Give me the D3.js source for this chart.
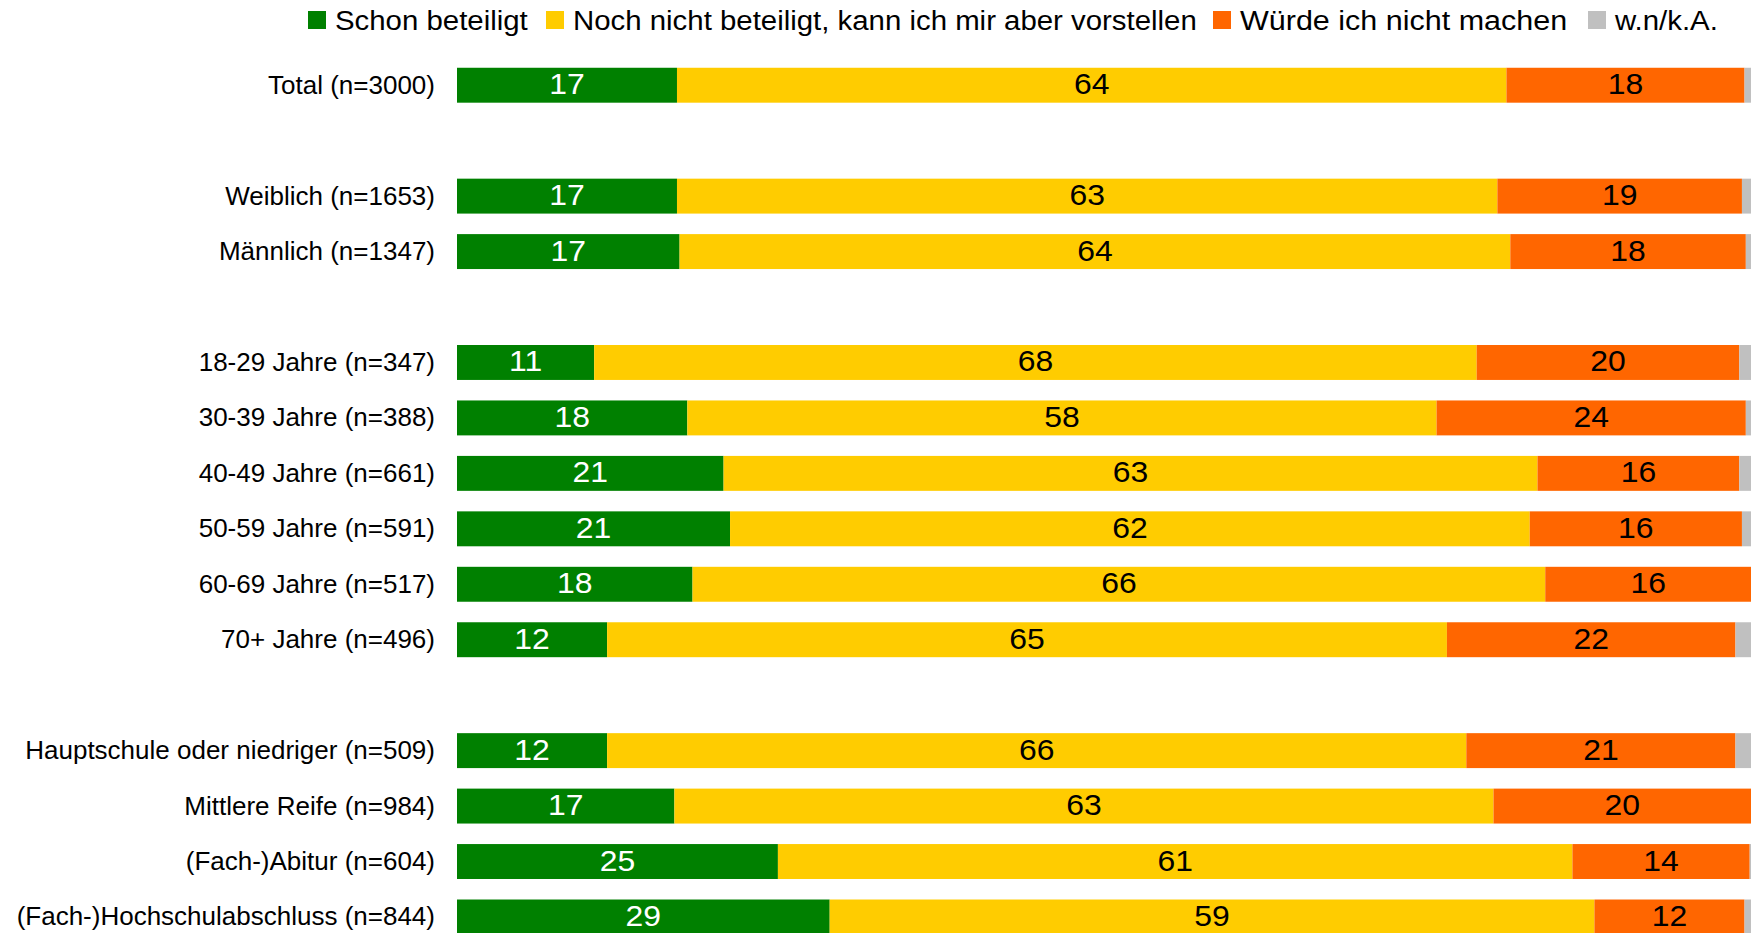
<!DOCTYPE html>
<html>
<head>
<meta charset="utf-8">
<script src="https://cdn.jsdelivr.net/npm/d3@7"></script>
<style>
  body { margin: 0; background: #fff; }
  text { font-family: "Liberation Sans", Arial, sans-serif; }
</style>
</head>
<body>
<div id="chart"></div>
<script>
// rows ("" = empty spacer row)
const groups = [
  "Total (n=3000)", "",
  "Weiblich (n=1653)", "Männlich (n=1347)", "",
  "18-29 Jahre (n=347)", "30-39 Jahre (n=388)", "40-49 Jahre (n=661)",
  "50-59 Jahre (n=591)", "60-69 Jahre (n=517)", "70+ Jahre (n=496)", "",
  "Hauptschule oder niedriger (n=509)", "Mittlere Reife (n=984)",
  "(Fach-)Abitur (n=604)", "(Fach-)Hochschulabschluss (n=844)"
];
const series = ["Schon beteiligt", "Noch nicht beteiligt, kann ich mir aber vorstellen",
                "Würde ich nicht machen", "w.n/k.A."];
const colors = ["#008000", "#FFCC00", "#FF6600", "#C0C0C0"];
const textColors = ["#fff", "#000", "#000", "#000"];

// values per row, same order as groups (null for spacer)
const schon    = [17.0, null, 17.0, 17.2, null, 10.6, 17.8, 20.6, 21.1, 18.2, 11.6, null, 11.6, 16.8, 24.8, 28.8];
const vorstell = [64.1, null, 63.4, 64.2, null, 68.2, 57.9, 62.9, 61.8, 65.9, 64.9, null, 66.4, 63.3, 61.4, 59.1];
const nicht    = [18.4, null, 18.9, 18.2, null, 20.3, 23.9, 15.6, 16.4, 15.9, 22.3, null, 20.8, 19.9, 13.7, 11.6];
const wnka     = [0.5,  null, 0.7,  0.4,  null, 0.9,  0.4,  0.9,  0.7,  0.0,  1.2,  null, 1.2,  0.1,  0.1,  0.5];

const width = 1751, height = 933;
const svg = d3.select("#chart").append("svg")
  .attr("width", width).attr("height", height);

const keys = groups.map((g, i) => g || "gap" + i);
const rows = keys.map((k, i) => ({
  key: k, label: groups[i],
  vals: [schon[i], vorstell[i], nicht[i], wnka[i]]
})).filter(r => r.label);

const x = d3.scaleLinear().domain([0, 100]).range([457, 1751]);
const y = d3.scaleBand().domain(keys)
  .range([57.5, 57.5 + 16 * 55.45])
  .paddingInner(0.37).paddingOuter(0.185);

// stack
const segs = [];
rows.forEach(r => {
  let acc = 0;
  r.vals.forEach((v, j) => {
    segs.push({row: r.key, j: j, v: v, x0: acc, x1: acc + v});
    acc += v;
  });
});

svg.append("g").selectAll("rect")
  .data(segs)
  .enter().append("rect")
  .attr("x", d => x(d.x0))
  .attr("y", d => y(d.row))
  .attr("width", d => x(d.x1) - x(d.x0))
  .attr("height", y.bandwidth())
  .attr("fill", d => colors[d.j]);

// value labels
svg.append("g").selectAll("text")
  .data(segs.filter(d => d.j < 3))
  .enter().append("text")
  .attr("transform", d => `translate(${(x(d.x0) + x(d.x1)) / 2},${y(d.row) + y.bandwidth() / 2 + 9}) scale(1.1,1)`)
  .attr("text-anchor", "middle")
  .attr("font-size", 29)
  .attr("fill", d => textColors[d.j])
  .text(d => Math.round(d.v));

// row labels
svg.append("g").selectAll("text")
  .data(rows)
  .enter().append("text")
  .attr("x", 435)
  .attr("y", d => y(d.key) + y.bandwidth() / 2 + 8.5)
  .attr("text-anchor", "end")
  .attr("font-size", 26)
  .attr("fill", "#000")
  .text(d => d.label);

// legend
const legX = [308, 546, 1213, 1588];
const leg = svg.append("g").selectAll("g")
  .data(series)
  .enter().append("g")
  .attr("transform", (d, i) => `translate(${legX[i]},11)`);
leg.append("rect")
  .attr("width", 18).attr("height", 18)
  .attr("fill", (d, i) => colors[i]);
leg.append("text")
  .attr("transform", (d, i) => `translate(27,19) scale(${i === 2 ? 1.09 : 1.05},1)`)
  .attr("font-size", 28)
  .attr("fill", "#000")
  .text(d => d);
</script>
</body>
</html>
